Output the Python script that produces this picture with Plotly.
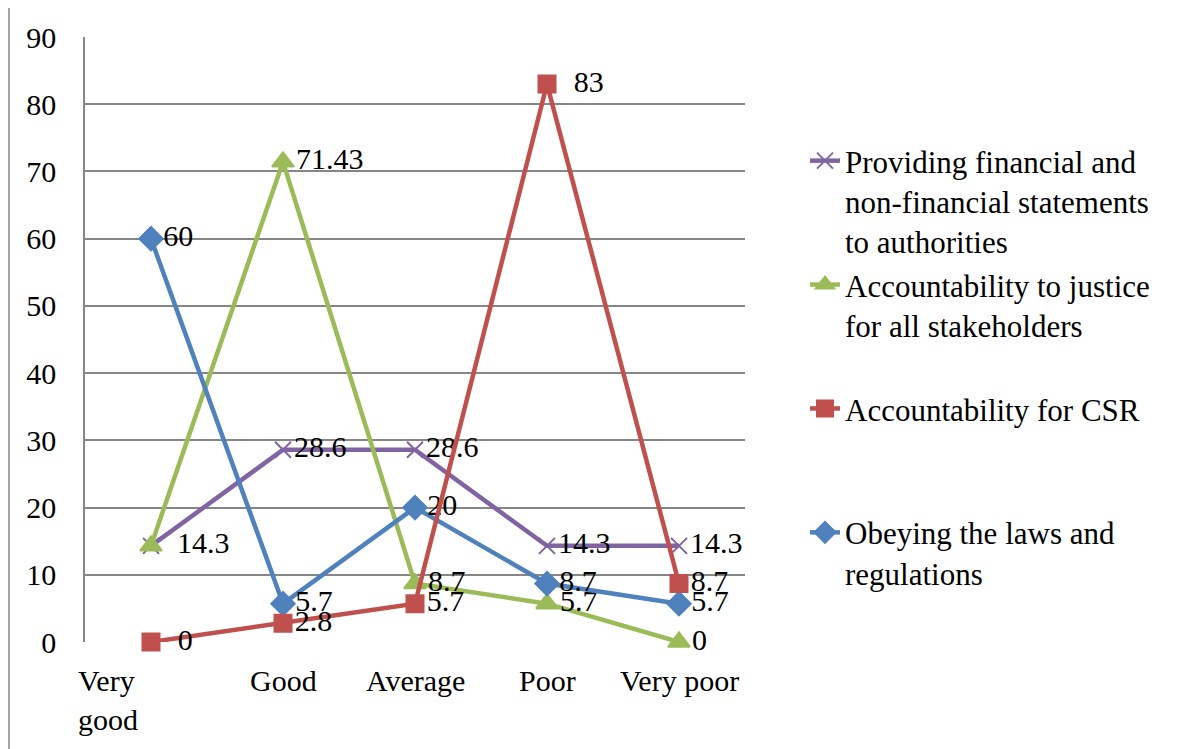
import plotly.graph_objects as go

categories = ["Very good", "Good", "Average", "Poor", "Very poor"]
tick_labels = ["Very<br>good", "Good", "Average", "Poor", "Very poor"]

providing = [14.3, 28.6, 28.6, 14.3, 14.3]
justice = [14.3, 71.43, 8.7, 5.7, 0]
csr = [0, 2.8, 5.7, 83, 8.7]
obeying = [60, 5.7, 20, 8.7, 5.7]

FONT = "Liberation Serif"
GRID = "#868686"


def labels(values, hide=(), wide=()):
    out = []
    for i, v in enumerate(values):
        if i in hide:
            out.append("")
        else:
            out.append(("  " if i in wide else "") + f"{v:g}")
    return out


# (name, values, colour, marker, size, legend rank, hidden labels, wide labels), drawing order
series = [
    ("Providing financial and<br>non-financial statements<br>to authorities",
     providing, "#8064A2", "x-thin-open", 16, 1, (), (0,)),
    ("Accountability to justice<br>for all stakeholders<br> ",
     justice, "#9BBB59", "triangle-up", 19, 2, (0,), ()),
    ("Obeying the laws and<br>regulations<br> ",
     obeying, "#4F81BD", "diamond", 18, 4, (), ()),
    ("Accountability for CSR<br> <br> ",
     csr, "#C0504D", "square", 17, 3, (), (0, 3)),
]

fig = go.Figure()
for name, vals, color, symbol, size, rank, hide, wide in series:
    fig.add_trace(go.Scatter(
        x=categories, y=vals, name=name, mode="lines+markers+text",
        line=dict(color=color, width=4.5),
        marker=dict(symbol=symbol, size=size, color=color,
                    line=dict(color=color, width=2)),
        text=labels(vals, hide, wide), textposition="middle right",
        textfont=dict(family=FONT, size=30, color="black"),
        cliponaxis=False, legendrank=rank,
    ))

# category labels under the axis (Excel shifts the wrapped one left)
shifts = [-43, 0, 0, 0, 0]
for cat, lab, sh in zip(categories, tick_labels, shifts):
    fig.add_annotation(x=cat, y=0, xref="x", yref="paper", text=lab,
                       showarrow=False, yanchor="top", yshift=-20, xshift=sh,
                       align="left" if sh else "center",
                       font=dict(family=FONT, size=30, color="black"))

# chart area frame
fig.add_shape(type="rect", xref="paper", yref="paper",
              x0=(1 - 77) / 660, x1=(1220 - 77) / 660,
              y0=(634 + 1) / 605, y1=(634 - 780) / 605,
              line=dict(color=GRID, width=1.5), fillcolor="rgba(0,0,0,0)")

fig.update_layout(
    width=1186, height=749,
    margin=dict(l=77, r=449, t=29, b=115),
    paper_bgcolor="white", plot_bgcolor="white",
    font=dict(family=FONT, size=30, color="black"),
    showlegend=True,
    legend=dict(x=720 / 660, y=(634 - 126) / 605,
                xanchor="left", yanchor="top", valign="top",
                font=dict(family=FONT, size=31, color="black"),
                tracegroupgap=0, bgcolor="rgba(0,0,0,0)"),
    xaxis=dict(type="category", range=[-0.5, 4.5], showticklabels=False,
               showgrid=False, zeroline=False, showline=False, fixedrange=True),
    yaxis=dict(range=[0, 90], dtick=10, showgrid=True, gridcolor=GRID,
               gridwidth=1.5, zeroline=False, showline=True, linecolor=GRID,
               linewidth=1.5, ticks="", ticklabelstandoff=21,
               tickfont=dict(family=FONT, size=30, color="black")),
)

fig.write_html("out.html")
